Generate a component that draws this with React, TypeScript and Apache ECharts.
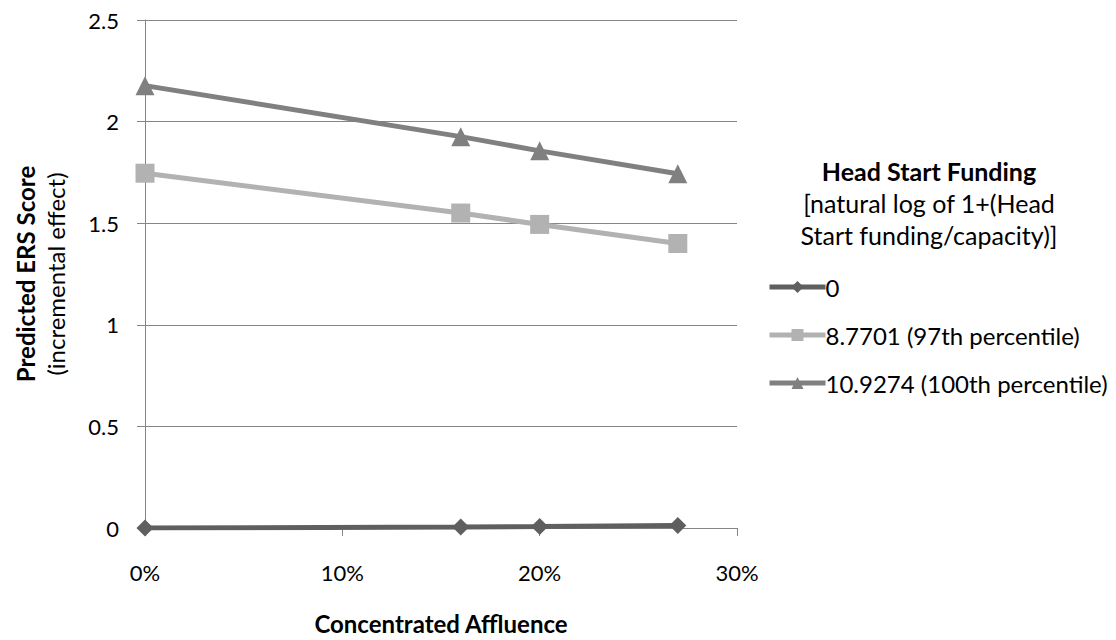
import React, { useEffect, useRef } from "react";
import * as echarts from "echarts";

const xValues = [0, 0.16, 0.2, 0.27];
const seriesNames = ["0", "8.7701 (97th percentile)", "10.9274 (100th percentile)"];
const s0 = [0, 0.005, 0.007, 0.012];
const s97 = [1.746, 1.55, 1.494, 1.4];
const s100 = [2.177, 1.926, 1.856, 1.743];
const legendTitle = ["Head Start Funding", "[natural log of 1+(Head", "Start funding/capacity)]"];
const yTitle = ["Predicted ERS Score", "(incremental effect)"];
const xTitle = "Concentrated Affluence";
const colors = ["#5f5f5f", "#b2b2b2", "#808080"];
const symbols = ["diamond", "rect", "triangle"];
const FONT = "Lato";

export default function App() {
  const ref = useRef<HTMLDivElement>(null);
  useEffect(() => {
    const chart = echarts.init(ref.current!, null, { renderer: "svg" });
    const data = [s0, s97, s100];
    chart.setOption({
      animation: false,
      backgroundColor: "#ffffff",
      textStyle: { fontFamily: FONT },
      grid: { left: 145, right: 379, top: 20, bottom: 112, containLabel: false },
      xAxis: {
        type: "value",
        min: 0,
        max: 0.3,
        interval: 0.1,
        axisLine: { show: true, lineStyle: { color: "#868686", width: 1 } },
        axisTick: { show: true, length: 8, lineStyle: { color: "#868686" } },
        splitLine: { show: false },
        axisLabel: {
          color: "#000",
          fontSize: 22,
          fontFamily: FONT,
          margin: 33,
          formatter: (v: number) => Math.round(v * 100) + "%",
        },
      },
      yAxis: {
        type: "value",
        min: 0,
        max: 2.5,
        interval: 0.5,
        axisLine: { show: true, lineStyle: { color: "#868686", width: 1 } },
        axisTick: { show: true, length: 8, lineStyle: { color: "#868686" } },
        splitLine: { show: true, lineStyle: { color: "#868686", width: 1 } },
        axisLabel: { color: "#000", fontSize: 22, fontFamily: FONT, margin: 26 },
      },
      legend: {
        orient: "vertical",
        left: 762,
        top: 270,
        itemWidth: 56,
        itemHeight: 15,
        itemGap: 24,
        lineStyle: { width: 5 },
        textStyle: { color: "#000", fontSize: 24, fontFamily: FONT, padding: [0, 0, 0, -5] },
        data: seriesNames,
      },
      graphic: [
        {
          type: "text",
          x: 929,
          y: 171,
          style: { text: legendTitle[0], font: `bold 25px ${FONT}`, fill: "#000", align: "center", verticalAlign: "middle" },
        },
        {
          type: "text",
          x: 929,
          y: 203,
          style: { text: legendTitle[1], font: `25px ${FONT}`, fill: "#000", align: "center", verticalAlign: "middle" },
        },
        {
          type: "text",
          x: 929,
          y: 235,
          style: { text: legendTitle[2], font: `25px ${FONT}`, fill: "#000", align: "center", verticalAlign: "middle" },
        },
        {
          type: "text",
          x: 25,
          y: 274,
          rotation: Math.PI / 2,
          style: { text: yTitle[0], font: `bold 24px ${FONT}`, fill: "#000", align: "center", verticalAlign: "middle" },
        },
        {
          type: "text",
          x: 55,
          y: 274,
          rotation: Math.PI / 2,
          style: { text: yTitle[1], font: `24px ${FONT}`, fill: "#000", align: "center", verticalAlign: "middle" },
        },
        {
          type: "text",
          x: 441,
          y: 623,
          style: { text: xTitle, font: `bold 24px ${FONT}`, fill: "#000", align: "center", verticalAlign: "middle" },
        },
      ],
      series: data.map((d, i) => ({
        name: seriesNames[i],
        type: "line",
        data: d.map((v, j) => [xValues[j], v]),
        symbol: symbols[i],
        symbolSize: i === 2 ? 19 : i === 1 ? 19 : 17,
        showSymbol: true,
        lineStyle: { color: colors[i], width: 5 },
        itemStyle: { color: colors[i] },
        z: 3 - i,
      })),
    });
    return () => chart.dispose();
  }, []);
  return <div ref={ref} style={{ position: "fixed", left: 0, top: 0, width: 1116, height: 640 }} />;
}
